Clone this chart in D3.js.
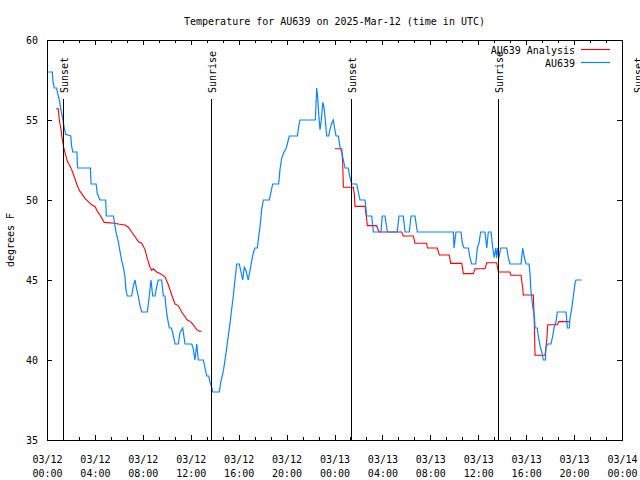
<!DOCTYPE html>
<html><head><meta charset="utf-8">
<script src="https://cdn.jsdelivr.net/npm/d3@7"></script>
<style>
body{margin:0;background:#fff}
svg text{font-family:"DejaVu Sans Mono","Liberation Mono",monospace;font-size:10px;fill:#000}
</style>
</head><body>
<svg id="chart" width="640" height="480"></svg>
<script>
// ---- data (hours since 2025-03-12 00:00 UTC) ----
const titleText = "Temperature for AU639 on 2025-Mar-12 (time in UTC)";
const yLabelText = "degrees F";
const seriesNames = ["AU639 Analysis", "AU639"];
const yTickValues = [35, 40, 45, 50, 55, 60];
const eventNames = ["Sunset", "Sunrise", "Sunset", "Sunrise", "Sunset"];
const eventHours = [1.36, 13.72, 25.40, 37.67, 49.25];

const obsTime = [0.11,0.44,0.50,0.61,0.80,0.94,1.05,1.14,1.25,1.31,1.42,1.55,1.98,2.05,2.15,2.50,2.55,3.62,3.68,4.10,4.20,4.42,4.90,4.95,5.55,5.65,5.76,5.95,6.09,6.24,6.37,6.51,6.59,6.70,7.07,7.20,7.35,7.49,7.62,7.76,7.91,8.37,8.54,8.68,8.82,9.02,9.16,9.29,9.57,9.71,9.85,9.93,10.04,10.21,10.40,10.55,10.69,10.96,11.10,11.33,11.52,12.08,12.21,12.35,12.50,12.63,13.05,13.19,13.33,13.50,13.61,13.75,13.83,14.38,14.50,14.72,14.94,15.13,15.28,15.42,15.55,15.69,15.84,16.05,16.17,16.34,16.47,16.61,16.80,16.95,17.09,17.22,17.36,17.56,17.67,17.78,17.92,18.06,18.56,18.67,18.84,19.34,19.45,19.59,19.78,19.95,20.06,20.23,20.90,21.01,21.12,22.40,22.46,22.51,22.60,22.68,22.79,22.90,23.02,23.12,23.23,23.35,23.52,23.62,23.77,23.90,23.98,24.13,24.32,24.46,24.60,24.74,24.88,25.15,25.29,25.44,25.85,25.99,26.13,26.55,26.69,27.11,27.24,27.88,27.99,28.22,28.41,29.24,29.38,29.74,29.89,30.24,30.39,30.72,30.91,33.92,33.98,34.14,34.56,34.67,34.81,35.17,35.31,35.45,35.79,35.92,36.06,36.20,36.56,36.71,36.84,37.07,37.21,37.34,37.46,37.54,37.62,37.73,37.87,38.38,38.51,38.65,39.57,39.71,39.85,39.99,40.24,40.32,40.38,40.55,40.68,40.74,40.93,41.01,41.16,41.30,41.43,41.60,41.66,41.80,42.07,42.22,42.32,42.49,42.60,43.33,43.44,43.60,43.66,43.80,43.94,44.08,44.16,44.64];
const obsTemp = [58.0,58.0,57.4,57.0,57.0,56.5,56.2,55.7,55.3,55.1,54.6,54.1,54.0,53.4,53.0,53.0,52.0,52.0,51.0,51.0,50.4,50.0,50.0,49.0,49.0,48.5,48.0,47.4,46.8,46.2,45.8,45.2,44.4,44.0,44.0,44.6,45.0,44.4,44.0,43.4,43.0,43.0,44.0,45.0,44.0,44.0,44.6,45.0,45.0,44.0,44.0,43.3,42.7,42.0,42.0,41.5,41.0,41.0,41.7,42.0,41.0,41.0,40.7,40.0,41.0,40.0,40.0,39.5,39.0,39.0,38.6,38.3,38.0,38.0,38.6,39.3,40.4,41.5,42.3,43.2,44.0,45.0,46.0,46.0,45.6,45.0,45.8,45.6,45.0,45.6,46.2,46.7,47.0,47.0,47.7,48.3,49.4,50.0,50.0,50.4,51.0,51.0,51.9,52.6,53.0,53.2,53.5,54.0,54.0,54.6,55.0,55.0,56.0,57.0,56.4,55.4,54.4,55.0,56.1,55.8,55.0,54.0,54.0,54.4,54.8,55.0,54.6,54.0,54.0,53.3,53.0,52.5,52.0,52.0,51.4,51.0,51.0,50.5,50.0,50.0,49.0,49.0,48.0,48.0,49.0,49.0,48.0,48.0,49.0,49.0,48.0,48.0,49.0,49.0,48.0,48.0,47.0,48.0,48.0,47.3,47.0,47.0,46.4,46.0,46.0,47.0,47.3,48.0,48.0,47.0,48.0,48.0,47.0,46.4,47.0,46.4,47.0,46.4,47.0,47.0,46.4,46.0,46.0,47.0,46.4,46.0,46.0,45.4,44.5,43.3,42.8,42.0,42.0,41.5,40.9,40.5,40.0,40.0,40.8,41.0,41.0,41.5,42.0,42.4,43.0,43.0,42.0,42.0,42.6,43.2,44.0,44.8,45.0,45.0];

const anaTime = [0.75,0.94,1.03,1.17,1.28,1.42,1.56,1.70,1.86,2.06,2.25,2.48,2.70,2.90,3.17,3.45,3.73,4.01,4.20,4.42,4.62,4.78,5.65,5.95,6.51,6.79,7.07,7.35,7.62,7.91,8.18,8.37,8.60,8.74,8.88,9.16,9.43,9.85,10.13,10.41,10.69,10.96,11.24,11.52,11.71,11.99,12.21,12.50,12.71,12.91,18.00,24.04,24.60,24.68,24.74,25.57,25.65,25.71,26.55,26.69,26.74,27.52,27.66,27.74,29.61,29.74,30.58,30.72,31.69,31.75,32.58,32.75,33.58,33.70,34.62,34.76,35.59,35.73,36.56,36.71,37.54,37.68,38.65,38.73,39.57,39.71,39.76,40.60,40.68,40.74,41.57,41.72,41.80,42.60,42.72,43.60];
const anaTemp = [55.7,55.7,55.0,54.4,53.75,53.2,52.8,52.4,52.2,51.9,51.5,51.0,50.6,50.4,50.1,49.9,49.7,49.6,49.3,49.06,48.8,48.6,48.55,48.5,48.44,48.3,48.0,47.7,47.4,47.3,46.9,46.35,45.8,45.6,45.7,45.5,45.4,45.2,44.7,44.06,43.5,43.4,43.0,42.7,42.5,42.4,42.2,41.9,41.8,41.8,null,53.2,53.2,52.4,50.8,50.8,50.4,49.6,49.6,48.75,48.4,48.4,48.1,48.0,48.0,47.75,47.75,47.3,47.3,47.0,47.0,46.56,46.56,46.04,46.04,45.4,45.4,45.7,45.7,46.08,46.08,45.5,45.5,45.3,45.3,44.5,44.06,44.06,42.3,40.3,40.3,41.25,42.2,42.2,42.4,42.4];

// ---- setup ----
const t0 = Date.UTC(2025, 2, 12, 0, 0);
const toDate = h => new Date(t0 + h * 3600000);
const svg = d3.select("#chart");
const L = 47, R = 622, T = 40, B = 440;
const x = d3.scaleUtc().domain([toDate(0), toDate(48)]).range([L, R]);
const y = d3.scaleLinear().domain([35, 60]).range([B, T]);

const colors = ["#ff0000", "#0a84ff"];

svg.append("rect").attr("width", 640).attr("height", 480).attr("fill", "#fff");

// title
svg.append("text").attr("x", (L + R) / 2).attr("y", 25).attr("text-anchor", "middle").text(titleText);

// y label
svg.append("text").attr("transform", `translate(14,${(T + B) / 2}) rotate(-90)`)
  .attr("text-anchor", "middle").text(yLabelText);

// series
const lineGen = d3.line()
  .defined(d => d[1] != null)
  .x(d => x(toDate(d[0])))
  .y(d => y(d[1]));
const anaData = anaTime.map((t, i) => [t, anaTemp[i]]);
const obsData = obsTime.map((t, i) => [t, obsTemp[i]]);
svg.append("path").datum(anaData).attr("d", lineGen)
  .attr("fill", "none").attr("stroke", colors[0]).attr("stroke-width", 1.1);
svg.append("path").datum(obsData).attr("d", lineGen)
  .attr("fill", "none").attr("stroke", colors[1]).attr("stroke-width", 1.2);

// event lines and labels
eventHours.forEach((h, i) => {
  const xe = x(toDate(h));
  if (h >= 0 && h <= 48) {
    svg.append("line").attr("x1", Math.round(xe) + 0.5).attr("x2", Math.round(xe) + 0.5)
      .attr("y1", 99).attr("y2", B).attr("stroke", "#000").attr("stroke-width", 1);
  }
  svg.append("text").attr("transform", `translate(${xe + 5},93) rotate(-90)`)
    .attr("text-anchor", "start").text(eventNames[i]);
});

// axes
const majorDates = d3.range(0, 49, 4).map(toDate);
const minorDates = d3.range(0, 48 * 60 + 1, 80).map(m => toDate(m / 60)).filter(d => !majorDates.some(md => +md === +d));
const fmtD = d3.utcFormat("%m/%d"), fmtT = d3.utcFormat("%H:%M");

function styleAxis(g) {
  g.select(".domain").remove();
  g.selectAll("line").attr("stroke", "#000").attr("shape-rendering", "crispEdges");
  g.attr("font-family", null).attr("font-size", null);
}

const gb = svg.append("g").attr("transform", `translate(0,${B})`)
  .call(d3.axisBottom(x).tickValues(majorDates).tickSize(-5).tickSizeOuter(0).tickFormat(""));
styleAxis(gb);
gb.selectAll(".tick text").each(function(d) {
  const t = d3.select(this).attr("y", null).attr("dy", null).attr("fill", "#000");
  t.append("tspan").attr("x", 0).attr("y", 23).text(fmtD(d));
  t.append("tspan").attr("x", 0).attr("y", 37).text(fmtT(d));
});
svg.append("g").attr("transform", `translate(0,${B})`)
  .call(d3.axisBottom(x).tickValues(minorDates).tickSize(-3).tickSizeOuter(0).tickFormat("")).call(styleAxis);
svg.append("g").attr("transform", `translate(0,${T})`)
  .call(d3.axisTop(x).tickValues(majorDates).tickSize(-5).tickSizeOuter(0).tickFormat("")).call(styleAxis);
svg.append("g").attr("transform", `translate(0,${T})`)
  .call(d3.axisTop(x).tickValues(minorDates).tickSize(-3).tickSizeOuter(0).tickFormat("")).call(styleAxis);

const gl = svg.append("g").attr("transform", `translate(${L},0)`)
  .call(d3.axisLeft(y).tickValues(yTickValues).tickSize(-5).tickSizeOuter(0).tickPadding(9).tickFormat(d3.format("d")));
styleAxis(gl);
gl.selectAll(".tick text").attr("fill", "#000");
svg.append("g").attr("transform", `translate(${R},0)`)
  .call(d3.axisRight(y).tickValues(yTickValues).tickSize(-5).tickSizeOuter(0).tickFormat("")).call(styleAxis);

// frame
svg.append("rect").attr("x", L + 0.5).attr("y", T + 0.5).attr("width", R - L).attr("height", B - T)
  .attr("fill", "none").attr("stroke", "#000").attr("shape-rendering", "crispEdges");

// legend
const legY = [54, 66.5], lineY = [49.5, 62.5];
seriesNames.forEach((n, i) => {
  svg.append("text").attr("x", 575).attr("y", legY[i]).attr("text-anchor", "end").text(n);
  svg.append("line").attr("x1", 581).attr("x2", 610).attr("y1", lineY[i]).attr("y2", lineY[i])
    .attr("stroke", colors[i]).attr("stroke-width", i === 1 ? 1.2 : 1.1);
});
</script>
</body></html>
